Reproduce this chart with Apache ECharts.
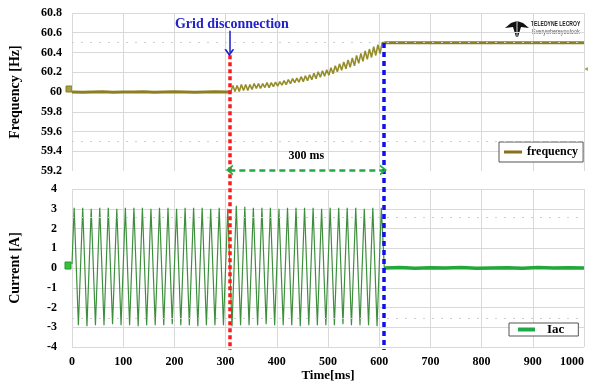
<!DOCTYPE html>
<html><head><meta charset="utf-8">
<script src="https://cdn.jsdelivr.net/npm/echarts@6/dist/echarts.min.js"></script>
<style>html,body{margin:0;padding:0;background:#fff}#c{width:595px;height:385px}</style>
</head><body><div id="c"></div>
<script>
// ---------- data ----------
const freqPreT = [0, 20, 40, 60, 80, 100, 120, 140, 160, 180, 200, 220, 240, 260, 280, 300, 310];
const freqPreV = [60.0, 59.997, 60.0, 60.003, 59.997, 60.0, 60.0, 60.003, 59.997, 60.0, 60.003, 60.0, 59.997, 60.0, 60.003, 60.0, 60.0];
const freqRampT = [310, 314.2, 318.3, 322.5, 326.7, 330.8, 335, 339.2, 343.3, 347.5, 351.7, 355.8, 360, 364.2, 368.3, 372.5, 376.7, 380.8, 385, 389.2, 393.3, 397.5, 401.7, 405.8, 410, 414.2, 418.3, 422.5, 426.7, 430.8, 435, 439.2, 443.3, 447.5, 451.7, 455.8, 460, 464.2, 468.3, 472.5, 476.7, 480.8, 485, 489.2, 493.3, 497.5, 501.7, 505.8, 510, 514.2, 518.3, 522.5, 526.7, 530.8, 535, 539.2, 543.3, 547.5, 551.7, 555.8, 560, 564.2, 568.3, 572.5, 576.7, 580.8, 585, 589.2, 593.3, 597.5, 601.7, 605.8, 610];
const freqRampV = [60.00, 60.065, 60.005, 60.065, 60.005, 60.075, 60.015, 60.075, 60.015, 60.075, 60.025, 60.085, 60.035, 60.085, 60.035, 60.085, 60.045, 60.095, 60.045, 60.095, 60.055, 60.10, 60.06, 60.105, 60.07, 60.115, 60.075, 60.125, 60.085, 60.135, 60.095, 60.14, 60.10, 60.155, 60.105, 60.165, 60.115, 60.175, 60.125, 60.19, 60.135, 60.205, 60.15, 60.215, 60.16, 60.225, 60.17, 60.245, 60.185, 60.265, 60.205, 60.285, 60.22, 60.305, 60.235, 60.325, 60.25, 60.345, 60.265, 60.37, 60.29, 60.39, 60.31, 60.415, 60.33, 60.435, 60.35, 60.46, 60.37, 60.48, 60.39, 60.50, 60.50];
const freqPostT = [610, 700, 800, 900, 1000];
const freqPostV = [60.5, 60.5, 60.5, 60.5, 60.5];

const iacStartT = [0];
const iacStartV = [0.2];
const iacPeakT = [4.2, 20.9, 37.5, 54.2, 70.9, 87.5, 104.2, 120.9, 137.5, 154.2, 170.9, 187.5, 204.2, 220.9, 237.5, 254.2, 270.9, 287.5, 304.2, 320.9, 337.5, 354.2, 370.9, 387.5, 404.2, 420.9, 437.5, 454.2, 470.9, 487.5, 504.2, 520.9, 537.5, 554.2, 570.9, 587.5, 604.2];
const iacPeakV = [3.05, 3.05, 3.0, 3.05, 3.05, 3.0, 3.05, 3.05, 3.05, 3.0, 3.05, 3.05, 3.0, 3.05, 3.05, 3.05, 3.0, 3.05, 3.0, 3.15, 3.1, 3.05, 3.05, 3.05, 3.0, 3.05, 3.05, 3.05, 3.05, 3.0, 3.05, 3.05, 3.05, 3.05, 3.0, 3.05, 3.05];
const iacTroughT = [12.5, 29.2, 45.8, 62.5, 79.2, 95.8, 112.5, 129.2, 145.8, 162.5, 179.2, 195.8, 212.5, 229.2, 245.8, 262.5, 279.2, 295.8, 312.5, 329.2, 345.8, 362.5, 379.2, 395.8, 412.5, 429.2, 445.8, 462.5, 479.2, 495.8, 512.5, 529.2, 545.8, 562.5, 579.2, 595.8];
const iacTroughV = [-2.9, -2.95, -2.9, -2.9, -2.85, -2.9, -2.9, -2.95, -2.9, -2.9, -2.9, -2.85, -2.9, -2.9, -2.95, -2.9, -2.9, -2.9, -2.95, -2.9, -2.9, -2.9, -2.85, -2.9, -2.9, -2.9, -2.95, -2.9, -2.9, -2.9, -2.9, -2.85, -2.9, -2.9, -2.9, -2.95];
const iacPostT = [610, 640, 670, 700, 730, 760, 790, 820, 850, 880, 910, 940, 970, 1000];
const iacPostV = [0.0, 0.02, -0.01, 0.01, 0.0, 0.02, -0.01, 0.0, 0.01, -0.01, 0.02, 0.0, 0.01, 0.0];

const eventT = [310, 610];          // grid disconnection, end of transition (ms)
const eventLabel = 'Grid disconnection';
const spanLabel = '300 ms';
const xTicks = {min: 0, max: 1000, interval: 100};
const freqTicks = {min: 59.2, max: 60.8, interval: 0.2};
const iacTicks = {min: -4, max: 4, interval: 1};

// ---------- helpers ----------
const zip = (t, v) => t.map((x, i) => [x, v[i]]);
const iacOsc = zip(iacStartT, iacStartV)
  .concat(zip(iacPeakT, iacPeakV), zip(iacTroughT, iacTroughV))
  .sort((a, b) => a[0] - b[0]);
iacOsc.push([iacPostT[0], iacPostV[0]]);

const SERIF = '"Liberation Serif","Times New Roman",serif';
const gridColor = '#d9d9d9';
const lblStyle = {fontFamily: SERIF, fontWeight: 'bold', fontSize: 12, color: '#000'};
const chevron = 'path://M0,10 L5,0 L10,10 L8,10 L5,4 L2,10 Z';

const chart = echarts.init(document.getElementById('c'), null, {renderer: 'canvas'});
const option = {
  animation: false,
  grid: [
    {left: 70, right: 11, top: 13, height: 158},
    {left: 70, right: 11, top: 189, height: 158},
    {left: 70, right: 11, top: 13, height: 337}
  ],
  xAxis: [
    {gridIndex: 0, type: 'value', min: xTicks.min, max: xTicks.max, interval: xTicks.interval,
     axisLabel: {show: false}, axisTick: {show: false}, axisLine: {show: false},
     splitLine: {show: true, lineStyle: {color: gridColor, width: 1}}},
    {gridIndex: 1, type: 'value', min: xTicks.min, max: xTicks.max, interval: xTicks.interval,
     axisTick: {show: false}, axisLine: {show: false},
     splitLine: {show: true, lineStyle: {color: gridColor, width: 1}},
     axisLabel: Object.assign({margin: 9, alignMaxLabel: 'right', formatter: v => String(v)}, lblStyle),
     name: 'Time[ms]', nameLocation: 'middle', nameGap: 21,
     nameTextStyle: {fontFamily: SERIF, fontWeight: 'bold', fontSize: 13, color: '#000'}},
    {gridIndex: 2, type: 'value', min: 0, max: 1000, show: false}
  ],
  yAxis: [
    {gridIndex: 0, type: 'value', min: freqTicks.min, max: freqTicks.max, interval: freqTicks.interval,
     axisTick: {show: false}, axisLine: {show: false},
     splitLine: {show: true, showMinLine: false, lineStyle: {color: gridColor, width: 1}},
     axisLabel: Object.assign({margin: 10, formatter: v => String(+(+v).toFixed(1))}, lblStyle),
     name: 'Frequency [Hz]', nameLocation: 'middle', nameGap: 50, nameRotate: 90,
     nameTextStyle: {fontFamily: SERIF, fontWeight: 'bold', fontSize: 14, color: '#000'}},
    {gridIndex: 1, type: 'value', min: iacTicks.min, max: iacTicks.max, interval: iacTicks.interval,
     axisTick: {show: false}, axisLine: {show: false},
     splitLine: {show: true, lineStyle: {color: gridColor, width: 1}},
     axisLabel: Object.assign({margin: 15, padding: [6, 0, 0, 0]}, lblStyle),
     name: 'Current [A]', nameLocation: 'middle', nameGap: 50, nameRotate: 90,
     nameTextStyle: {fontFamily: SERIF, fontWeight: 'bold', fontSize: 14, color: '#000'}},
    {gridIndex: 2, type: 'value', min: 0, max: 1, show: false}
  ],
  legend: [
    {data: [{name: 'frequency', icon: 'rect', itemStyle: {color: '#8b6e1c'}}],
     left: 499, top: 142, padding: [4, 5, 4, 5], borderColor: '#555', borderWidth: 1,
     backgroundColor: '#fff', itemWidth: 18, itemHeight: 3, selectedMode: false,
     textStyle: {fontFamily: SERIF, fontWeight: 'bold', fontSize: 12, color: '#000'}},
    {data: [{name: 'Iac', icon: 'rect', itemStyle: {color: '#1faa4a'}}],
     left: 509, top: 323, padding: [0, 14, 0, 9], borderColor: '#555', borderWidth: 1,
     backgroundColor: '#fff', itemWidth: 17, itemHeight: 4, selectedMode: false,
     textStyle: {fontFamily: SERIF, fontWeight: 'bold', fontSize: 13, color: '#000', padding: [0, 0, 0, 7]}}
  ],
  series: [
    {type: 'line', name: 'frequency', xAxisIndex: 0, yAxisIndex: 0, data: zip(freqPreT, freqPreV),
     showSymbol: false, symbol: 'none', lineStyle: {color: '#8c7f22', width: 3}, itemStyle: {color: '#8c7f22'},
     markLine: {silent: true, symbol: 'none', label: {show: false},
       lineStyle: {color: '#cfcfcf', type: [2, 7], width: 1},
       data: [{yAxis: 60.5}, {yAxis: 59.5}]}},
    {type: 'line', name: 'frequency', xAxisIndex: 0, yAxisIndex: 0, data: zip(freqRampT, freqRampV),
     showSymbol: false, symbol: 'none', lineStyle: {color: '#958d2a', width: 1.6}, itemStyle: {color: '#958d2a'}},
    {type: 'line', name: 'frequency', xAxisIndex: 0, yAxisIndex: 0, data: zip(freqPostT, freqPostV),
     showSymbol: false, symbol: 'none', lineStyle: {color: '#8c7f22', width: 3}, itemStyle: {color: '#8c7f22'}},
    {type: 'line', name: 'Iac', xAxisIndex: 1, yAxisIndex: 1, data: iacOsc,
     showSymbol: false, symbol: 'none', lineStyle: {color: '#3d8f3d', width: 1.2}, itemStyle: {color: '#3d8f3d'},
     markLine: {silent: true, symbol: 'none', label: {show: false},
       lineStyle: {color: '#cfcfcf', type: [2, 7], width: 1},
       data: [{yAxis: 2.55}, {yAxis: -2.55}]}},
    {type: 'line', name: 'Iac', xAxisIndex: 1, yAxisIndex: 1, data: zip(iacPostT, iacPostV),
     showSymbol: false, symbol: 'none', lineStyle: {color: '#22a838', width: 3.5}, itemStyle: {color: '#22a838'}},
    {type: 'line', name: 'overlay', xAxisIndex: 2, yAxisIndex: 2, data: [], z: 10, clip: false,
     markLine: {silent: true, symbol: 'none', label: {show: false}, animation: false,
       data: [
         [{coord: [eventT[0], 0.875], lineStyle: {color: '#ff1a1a', width: 3.5, type: [4, 3]}}, {coord: [eventT[0], 0]}],
         [{coord: [eventT[1], 0.911], lineStyle: {color: '#1010ee', width: 3.5, type: [5, 4]}}, {coord: [eventT[1], 0]}],
         [{coord: [eventT[0], 0.947], symbol: 'none', lineStyle: {color: '#1a1ad0', width: 1.5, type: 'solid'}},
          {coord: [eventT[0], 0.882], symbol: chevron, symbolSize: [10, 7]}],
         [{coord: [eventT[0], 0.534], symbol: chevron, symbolSize: [11, 7],
           lineStyle: {color: '#22aa44', width: 2.5, type: [6, 4]},
           label: {show: true, formatter: spanLabel, position: 'middle', distance: 8,
                   fontFamily: SERIF, fontWeight: 'bold', fontSize: 12, color: '#000'}},
          {coord: [eventT[1], 0.534], symbol: chevron, symbolSize: [11, 7]}]
       ]},
     markPoint: {silent: true, animation: false,
       data: [{coord: [315, 0.967], symbol: 'circle', symbolSize: 1, itemStyle: {color: 'transparent'},
         label: {show: true, position: 'inside', formatter: eventLabel,
                 fontFamily: SERIF, fontWeight: 'bold', fontSize: 14, color: '#2222cc'}}]}}
  ],
  graphic: [
    {type: 'polygon', shape: {points: [[505, 28], [511, 23], [517, 21], [523, 23], [529, 28], [521, 27], [518, 37], [516, 37], [513, 27]]},
     style: {fill: '#111'}},
    {type: 'line', shape: {x1: 517, y1: 21, x2: 517, y2: 37}, style: {stroke: '#fff', lineWidth: 0.8}},
    {type: 'text', x: 531, y: 21, scaleX: 0.72, style: {text: 'TELEDYNE LECROY', font: 'bold 7px "Liberation Sans",sans-serif', fill: '#222', textVerticalAlign: 'top'}},
    {type: 'text', x: 532, y: 29, scaleX: 0.78, style: {text: 'Everywhereyoulook', font: '7px "Liberation Sans",sans-serif', fill: '#555', textVerticalAlign: 'top'}},
    {type: 'rect', shape: {x: 66, y: 86, width: 6, height: 6}, style: {fill: '#a8a040', stroke: '#8a7d22'}},
    {type: 'rect', shape: {x: 65, y: 262, width: 6, height: 7}, style: {fill: '#3cc03c', stroke: '#1f9a2f'}},
    {type: 'polygon', shape: {points: [[584, 69], [588, 67], [588, 71]]}, style: {fill: '#b0a850'}}
  ]
};
chart.setOption(option);
</script>
</body></html>
